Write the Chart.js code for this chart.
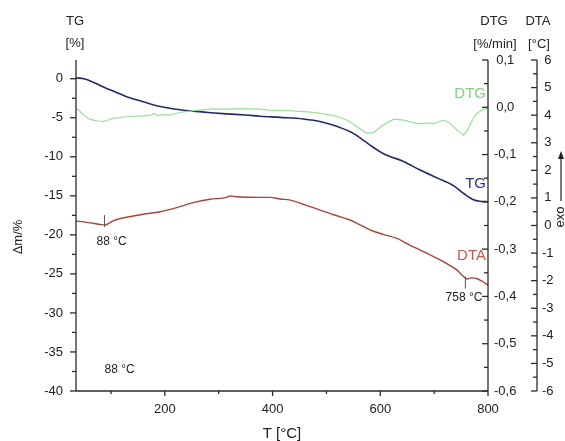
<!DOCTYPE html>
<html>
<head>
<meta charset="utf-8">
<script src="https://cdn.jsdelivr.net/npm/chart.js@4"></script>
<style>
  body { margin: 0; background: #fff; }
  #wrap { width: 565px; height: 441px; }
</style>
</head>
<body>
<div id="wrap"><canvas id="taChart"></canvas></div>
<script>
// TG curve (mass loss, %)
const tgTemp = [35, 50, 70, 86, 110, 129, 160, 191, 220, 253, 285, 315, 350, 377, 414, 457, 490, 519, 550, 565, 581, 606, 643, 674, 705, 736, 755, 773, 785, 800];
const tgMass = [0.1, 0.0, -0.55, -1.05, -1.75, -2.3, -2.95, -3.55, -3.9, -4.15, -4.35, -4.5, -4.65, -4.8, -4.95, -5.15, -5.5, -6.1, -7.0, -7.7, -8.5, -9.6, -10.6, -11.7, -12.7, -13.7, -14.7, -15.5, -15.7, -15.75];

// DTG curve (%/min)
const dtgTemp = [35, 42, 49, 58, 67, 76, 86, 95, 104, 115, 129, 145, 160, 172, 180, 185, 195, 210, 228, 253, 284, 315, 340, 377, 395, 430, 457, 480, 507, 525, 538, 557, 575, 588, 597, 606, 625, 643, 660, 674, 690, 699, 710, 717, 727, 736, 746, 755, 761, 767, 773, 779, 790, 800];
const dtgRate = [-0.002, -0.008, -0.016, -0.024, -0.027, -0.029, -0.030, -0.027, -0.023, -0.022, -0.020, -0.019, -0.018, -0.017, -0.013, -0.017, -0.016, -0.016, -0.011, -0.007, -0.004, -0.004, -0.003, -0.004, -0.006, -0.007, -0.009, -0.011, -0.016, -0.021, -0.027, -0.041, -0.055, -0.053, -0.045, -0.037, -0.025, -0.027, -0.032, -0.035, -0.033, -0.035, -0.030, -0.027, -0.032, -0.041, -0.052, -0.059, -0.050, -0.037, -0.022, -0.013, -0.005, -0.001];

// DTA curve (°C)
const dtaTemp = [35, 50, 67, 80, 89, 96, 104, 115, 129, 160, 191, 222, 253, 284, 315, 321, 333, 377, 395, 414, 433, 460, 488, 515, 544, 560, 581, 605, 631, 652, 674, 696, 717, 742, 752, 761, 770, 779, 790, 800];
const dtaDelta = [0.16, 0.13, 0.08, 0.04, 0.02, 0.08, 0.17, 0.24, 0.30, 0.41, 0.50, 0.65, 0.83, 0.95, 1.02, 1.07, 1.04, 1.02, 1.02, 0.96, 0.92, 0.75, 0.56, 0.38, 0.20, 0.05, -0.16, -0.32, -0.47, -0.68, -0.89, -1.10, -1.31, -1.61, -1.80, -1.94, -1.90, -1.92, -2.03, -2.16];

// marked points on the DTA curve
const markTemp = [88, 758];
const markDta = [0.16, -2.07];
const markLabel = ['88 °C', '758 °C'];

// axis ticks
const xTicks = [200, 400, 600, 800];
const tgTicks = [0, -5, -10, -15, -20, -25, -30, -35, -40];
const dtgTicks = [0.1, 0.0, -0.1, -0.2, -0.3, -0.4, -0.5, -0.6];
const dtaTicks = [6, 5, 4, 3, 2, 1, 0, -1, -2, -3, -4, -5, -6];

const pts = (xs, ys) => xs.map((x, i) => ({ x: x, y: ys[i] }));
const midpoints = arr => arr.slice(1).map((v, i) => (v + arr[i]) / 2);

Chart.defaults.font.family = "'Liberation Sans', Arial, sans-serif";
Chart.defaults.font.size = 13;
Chart.defaults.color = '#222';

function fixTicks(values) {
    return scale => { scale.ticks = values.map(v => ({ value: v })); };
}

const AXIS = '#2a2a2a';

const axesPlugin = {
    id: 'taAxes',
    afterDraw(chart) {
        const ctx = chart.ctx;
        const { left, right, top, bottom } = chart.chartArea;
        const sx = chart.scales.x, sTG = chart.scales.yTG, sDTG = chart.scales.yDTG, sDTA = chart.scales.yDTA;
        const dtaX = sDTA.left;

        ctx.save();
        ctx.strokeStyle = AXIS;
        ctx.lineWidth = 1.3;
        const seg = (x1, y1, x2, y2) => { ctx.beginPath(); ctx.moveTo(x1, y1); ctx.lineTo(x2, y2); ctx.stroke(); };

        // axis lines
        seg(left, top, left, bottom);
        seg(left, bottom, right, bottom);
        seg(right, top, right, bottom);
        seg(dtaX, top, dtaX, bottom);

        // tick marks
        tgTicks.forEach(v => seg(left - 6, sTG.getPixelForValue(v), left, sTG.getPixelForValue(v)));
        midpoints(tgTicks).forEach(v => seg(left - 4, sTG.getPixelForValue(v), left, sTG.getPixelForValue(v)));
        xTicks.forEach(v => seg(sx.getPixelForValue(v), bottom, sx.getPixelForValue(v), bottom + 5));
        midpoints([0].concat(xTicks)).forEach(v => seg(sx.getPixelForValue(v), bottom, sx.getPixelForValue(v), bottom + 3));
        dtgTicks.forEach(v => seg(right - 6, sDTG.getPixelForValue(v), right, sDTG.getPixelForValue(v)));
        midpoints(dtgTicks).forEach(v => seg(right - 4, sDTG.getPixelForValue(v), right, sDTG.getPixelForValue(v)));
        dtaTicks.forEach(v => seg(dtaX - 6, sDTA.getPixelForValue(v), dtaX, sDTA.getPixelForValue(v)));
        midpoints(dtaTicks).forEach(v => seg(dtaX - 4, sDTA.getPixelForValue(v), dtaX, sDTA.getPixelForValue(v)));

        // marks on DTA curve
        ctx.fillStyle = '#222';
        ctx.font = "12px 'Liberation Sans', Arial, sans-serif";
        ctx.textBaseline = 'middle';
        ctx.lineWidth = 1;
        ctx.strokeStyle = '#555';
        markTemp.forEach((t, i) => {
            const px = sx.getPixelForValue(t), py = sDTA.getPixelForValue(markDta[i]);
            seg(px, py - 6, px, py + 6);
            if (i === 0) { ctx.textAlign = 'left'; ctx.fillText(markLabel[i], px - 8, py + 21); }
            else { ctx.textAlign = 'right'; ctx.fillText(markLabel[i], px + 17, py + 15); }
        });
        ctx.textAlign = 'left';
        ctx.fillText(markLabel[0], sx.getPixelForValue(markTemp[0]), sTG.getPixelForValue(-37.3));

        // curve names
        ctx.font = "15px 'Liberation Sans', Arial, sans-serif";
        ctx.textAlign = 'right';
        ctx.fillStyle = '#7fd07f';
        ctx.fillText('DTG', right - 2, 94);
        ctx.fillStyle = '#2c3577';
        ctx.fillText('TG', right - 2, 184);
        ctx.fillStyle = '#c05a55';
        ctx.fillText('DTA', right - 2, 256);

        // headers
        ctx.fillStyle = '#222';
        ctx.font = "13px 'Liberation Sans', Arial, sans-serif";
        ctx.textAlign = 'center';
        ctx.fillText('TG', left - 1, 21);
        ctx.fillText('[%]', left - 1, 43);
        ctx.fillText('DTG', right + 6, 21);
        ctx.fillText('[%/min]', right + 7, 44);
        ctx.fillText('DTA', dtaX + 1, 21);
        ctx.fillText('[°C]', dtaX + 2, 44);

        // axis titles
        ctx.font = "15px 'Liberation Sans', Arial, sans-serif";
        ctx.fillText('T [°C]', (left + right) / 2, 434);
        ctx.font = "13px 'Liberation Sans', Arial, sans-serif";
        ctx.save();
        ctx.translate(18, 237);
        ctx.rotate(-Math.PI / 2);
        ctx.fillText('Δm/%', 0, 0);
        ctx.restore();
        ctx.save();
        ctx.translate(560, 217);
        ctx.rotate(-Math.PI / 2);
        ctx.fillText('exo', 0, 0);
        ctx.restore();

        // exo arrow
        ctx.strokeStyle = '#222';
        ctx.lineWidth = 1.2;
        seg(561, 201, 561, 156);
        ctx.beginPath();
        ctx.moveTo(561, 151);
        ctx.lineTo(558, 159);
        ctx.lineTo(564, 159);
        ctx.closePath();
        ctx.fill();
        ctx.restore();
    }
};

const hiddenGrid = { display: false, drawTicks: false };
const noBorder = { display: false };

new Chart(document.getElementById('taChart'), {
    type: 'line',
    data: {
        datasets: [
            { label: 'DTG', data: pts(dtgTemp, dtgRate), yAxisID: 'yDTG', borderColor: '#9bdf9b', borderWidth: 1.2, pointRadius: 0, tension: 0 },
            { label: 'DTA', data: pts(dtaTemp, dtaDelta), yAxisID: 'yDTA', borderColor: '#a8443c', borderWidth: 1.4, pointRadius: 0, cubicInterpolationMode: 'monotone' },
            { label: 'TG', data: pts(tgTemp, tgMass), yAxisID: 'yTG', borderColor: '#232a66', borderWidth: 1.6, pointRadius: 0, cubicInterpolationMode: 'monotone' }
        ]
    },
    options: {
        responsive: true,
        maintainAspectRatio: false,
        animation: false,
        layout: { padding: { top: 60, left: 0, right: 0, bottom: 0 } },
        plugins: { legend: { display: false }, tooltip: { enabled: false } },
        scales: {
            x: {
                type: 'linear',
                min: 35,
                max: 800,
                grid: hiddenGrid,
                border: noBorder,
                afterBuildTicks: fixTicks(xTicks),
                afterFit: s => { s.height = 50; },
                ticks: { autoSkip: false, padding: 11, maxRotation: 0 }
            },
            yTG: {
                type: 'linear',
                position: 'left',
                min: -40,
                max: 2.4,
                grid: hiddenGrid,
                border: noBorder,
                afterBuildTicks: fixTicks(tgTicks),
                afterFit: s => { s.width = 76; },
                ticks: { autoSkip: false, padding: 13 }
            },
            yDTG: {
                type: 'linear',
                position: 'right',
                weight: 0,
                min: -0.6,
                max: 0.1,
                grid: hiddenGrid,
                border: noBorder,
                afterBuildTicks: fixTicks(dtgTicks),
                afterFit: s => { s.width = 49; },
                ticks: { autoSkip: false, padding: 6, crossAlign: 'center', callback: v => v.toFixed(1).replace('.', ',') }
            },
            yDTA: {
                type: 'linear',
                position: 'right',
                weight: 1,
                min: -6,
                max: 6,
                grid: hiddenGrid,
                border: noBorder,
                afterBuildTicks: fixTicks(dtaTicks),
                afterFit: s => { s.width = 28; },
                ticks: { autoSkip: false, padding: 5, crossAlign: 'center' }
            }
        }
    },
    plugins: [axesPlugin]
});
</script>
</body>
</html>
